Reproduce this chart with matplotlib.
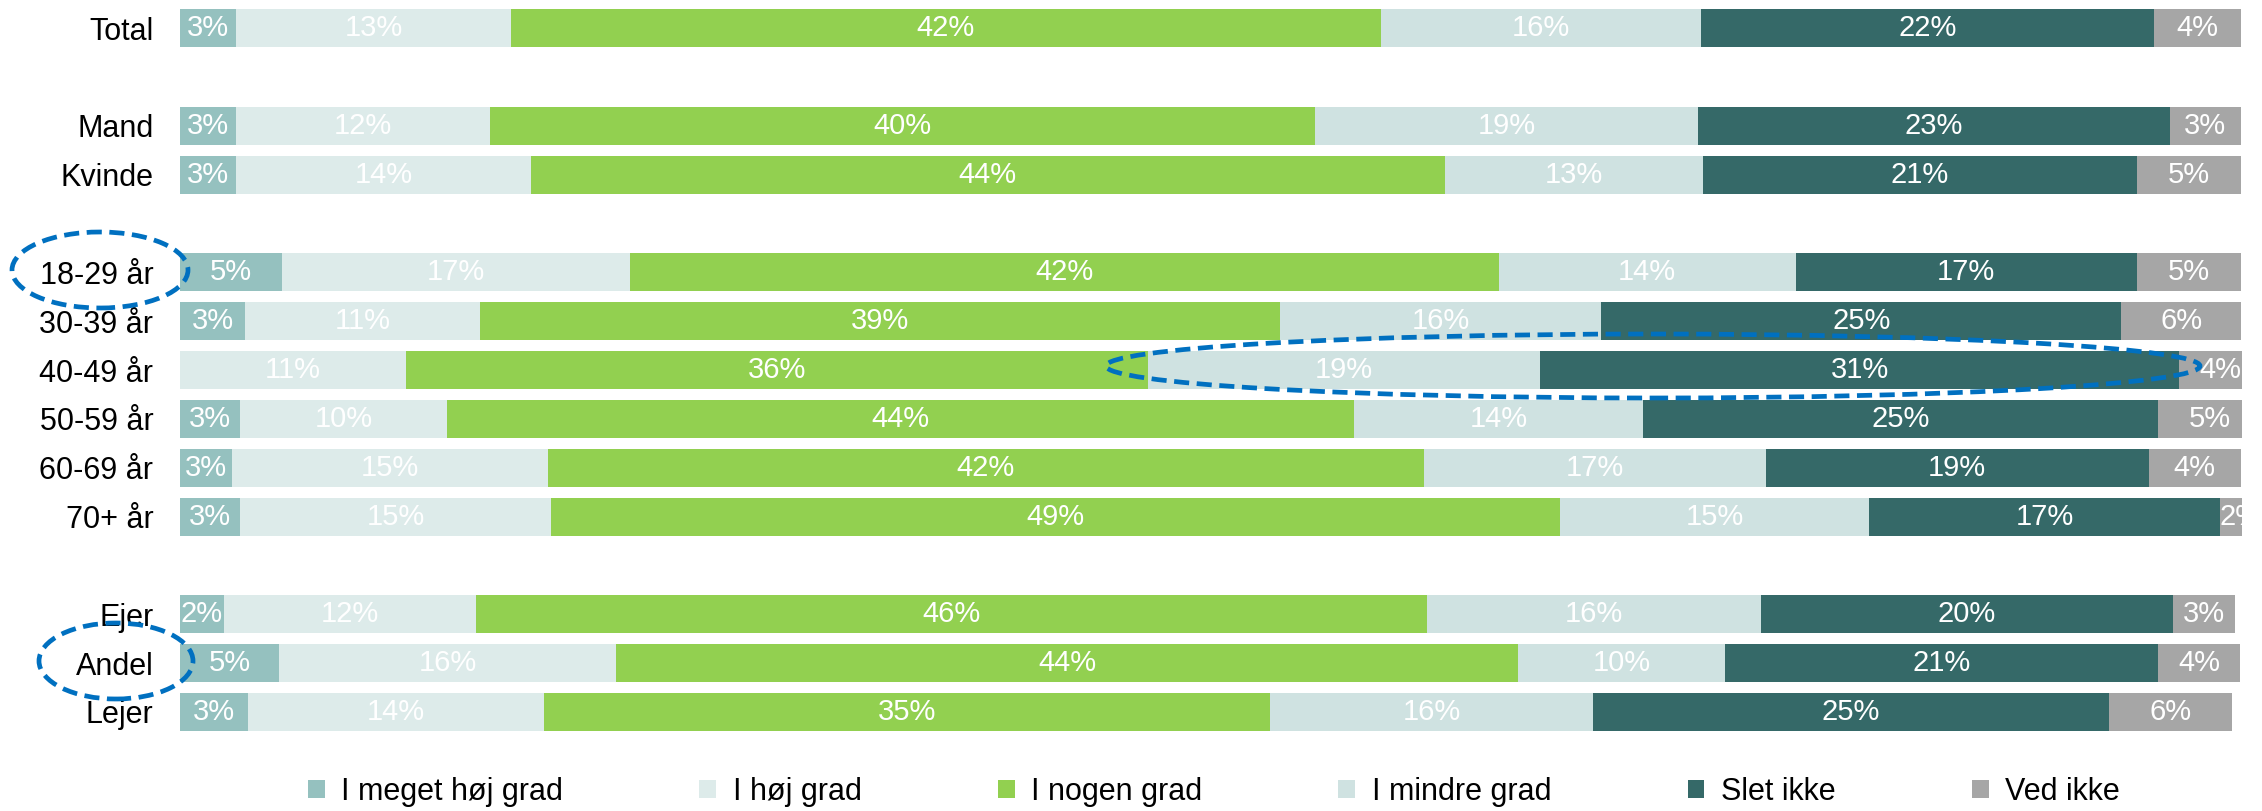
import matplotlib
matplotlib.use("Agg")
import matplotlib.pyplot as plt
from matplotlib.patches import Ellipse, Patch
import numpy as np

plt.rcParams['font.family'] = ['Liberation Sans', 'DejaVu Sans']

row_labels = ["Total", "Mand", "Kvinde", "18-29 år", "30-39 år", "40-49 år",
              "50-59 år", "60-69 år", "70+ år", "Ejer", "Andel", "Lejer"]
row_slots = [0, 2, 3, 5, 6, 7, 8, 9, 10, 12, 13, 14]

series_names = ["I meget høj grad", "I høj grad", "I nogen grad",
                "I mindre grad", "Slet ikke", "Ved ikke"]
colors = ["#95C1BF", "#DDEBEA", "#92D050", "#CFE2E1", "#356968", "#A6A6A6"]

meget_hoej = [2.75, 2.75, 2.75, 4.94, 3.18, 0.0, 2.94, 2.54, 2.94, 2.14, 4.82, 3.29]
hoej       = [13.29, 12.28, 14.28, 16.89, 11.38, 10.99, 10.00, 15.33, 15.05, 12.23, 16.32, 14.37]
nogen      = [42.20, 40.01, 44.31, 42.13, 38.81, 35.97, 44.01, 42.46, 48.97, 46.10, 43.78, 35.24]
mindre     = [15.56, 18.61, 12.54, 14.41, 15.57, 19.02, 14.02, 16.59, 14.99, 16.20, 10.04, 15.66]
slet_ikke  = [21.93, 22.87, 21.03, 16.55, 25.23, 30.98, 24.99, 18.58, 17.00, 20.01, 21.00, 24.99]
ved_ikke   = [4.24, 3.44, 5.05, 5.05, 5.80, 4.00, 5.00, 4.45, 2.00, 2.99, 3.98, 5.99]

series = [meget_hoej, hoej, nogen, mindre, slet_ikke, ved_ikke]

W, H = 2262, 811
fig = plt.figure(figsize=(W / 100, H / 100), dpi=100)
ax = fig.add_axes([179.8 / W, 1 - 736.4 / H, (2241.6 - 179.8) / W, (736.4 - 3.9) / H])

y = np.array(row_slots, dtype=float)
left = np.zeros(len(row_labels))
for name, vals, col in zip(series_names, series, colors):
    vals = np.array(vals)
    ax.barh(y, vals, left=left, height=0.778, color=col, label=name, linewidth=0)
    for yi, l, v in zip(y, left, vals):
        if v > 0:
            ax.text(l + v / 2, yi, f"{int(round(v))}%", ha="center", va="center",
                    color="white", fontsize=21, clip_on=True)
    left = left + vals

ax.set_xlim(0, 100)
ax.set_ylim(14.5, -0.5)
ax.set_yticks(y)
ax.set_yticklabels(row_labels, fontsize=22, color="black")
ax.tick_params(axis="y", length=0, pad=19)
ax.set_xticks([])
for s in ax.spines.values():
    s.set_visible(False)

# dashed highlight ellipses (annotations)
ell_kw = dict(fill=False, edgecolor="#0070C0", linewidth=3.4, linestyle=(0, (3.2, 1.6)),
              transform=fig.transFigure, clip_on=False)
fig.patches.append(Ellipse((100 / W, 1 - 270 / H), 176 / W, 76 / H, **ell_kw))
fig.patches.append(Ellipse((116 / W, 1 - 661 / H), 154 / W, 76 / H, **ell_kw))
fig.patches.append(Ellipse((1653 / W, 1 - 366 / H), 1094 / W, 64 / H, **ell_kw))

handles = [Patch(facecolor=c, edgecolor="none") for c in colors]
fig.legend(handles, series_names, loc="center", bbox_to_anchor=(1214 / W, 1 - 792 / H),
           ncol=6, frameon=False, fontsize=22, handlelength=0.55, handleheight=0.55,
           handletextpad=0.55, columnspacing=4.45, borderpad=0)

fig.savefig("out.png", dpi=100)
